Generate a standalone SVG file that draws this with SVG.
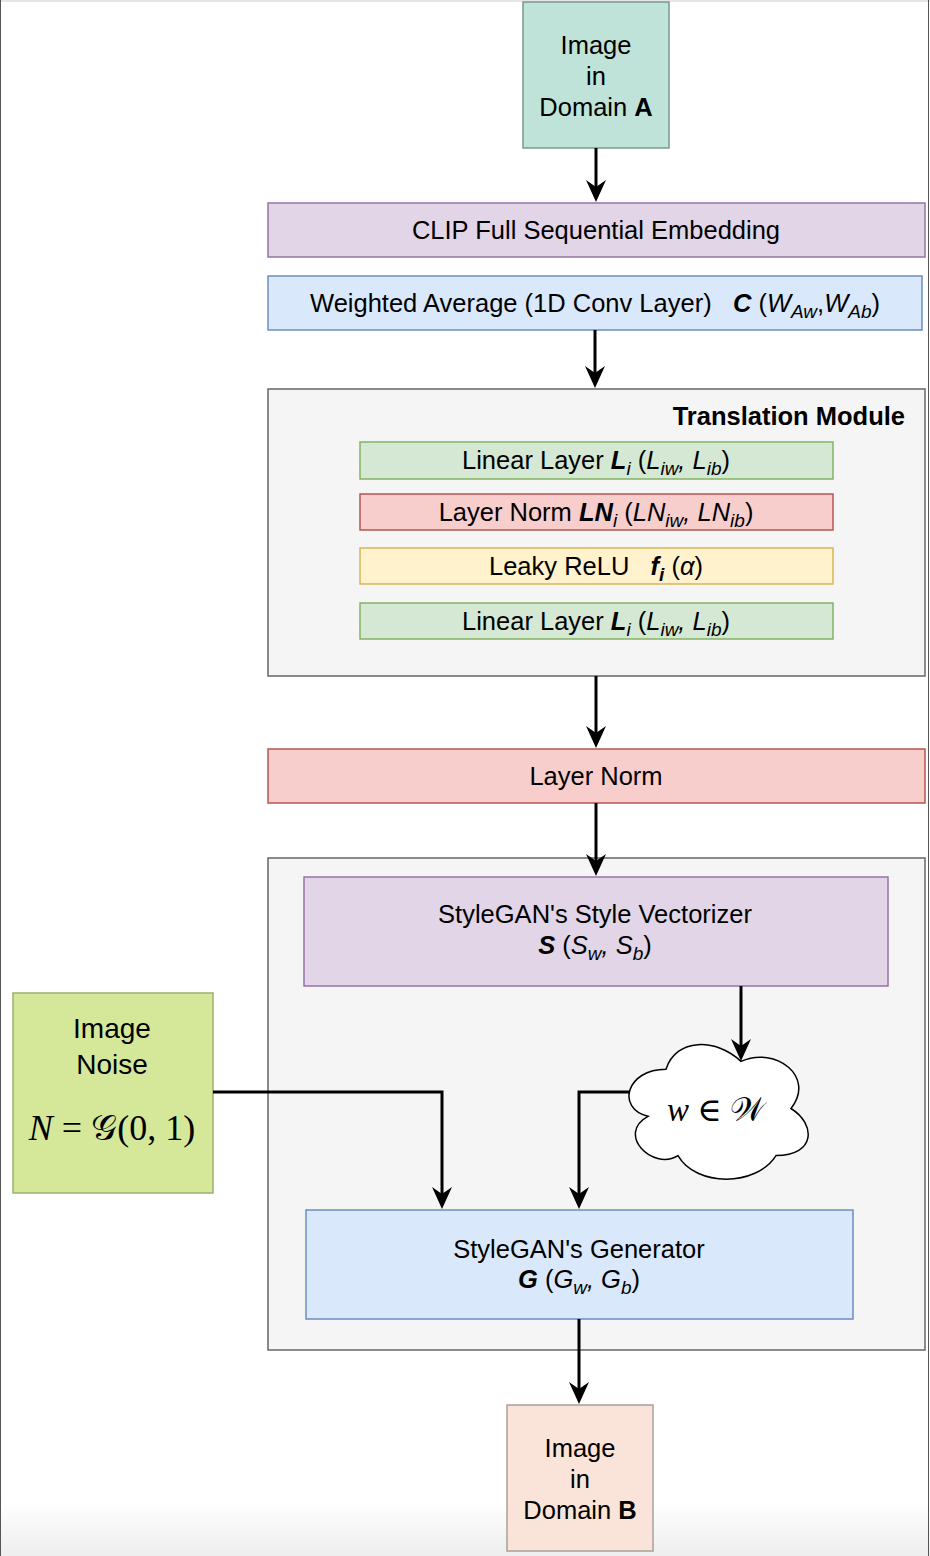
<svg xmlns="http://www.w3.org/2000/svg" width="930" height="1556" viewBox="0 0 930 1556">
<style>
text{font-family:"Liberation Sans",Arial,sans-serif;font-size:25.5px;fill:#000;white-space:pre}
.c{text-anchor:middle}
.b{font-weight:bold}
.i{font-style:italic}
.bi{font-weight:bold;font-style:italic}
.s{font-size:19px}
.m{font-family:"Liberation Serif","DejaVu Serif",serif}
.line{fill:none;stroke:#000;stroke-width:3}
.cont{fill:#f5f5f5;stroke:#666666;stroke-width:1.5}
.purple{fill:#e1d5e7;stroke:#9673a6;stroke-width:1.5}
.blue{fill:#dae8fc;stroke:#6c8ebf;stroke-width:1.5}
.green{fill:#d5e8d4;stroke:#82b366;stroke-width:1.5}
.red{fill:#f8cecc;stroke:#b85450;stroke-width:1.5}
.yellow{fill:#fff2cc;stroke:#d6b656;stroke-width:1.5}
</style>
<defs>
<marker id="arr" markerUnits="userSpaceOnUse" viewBox="0 -11 23 22" markerWidth="23" markerHeight="22" refX="8" refY="0" orient="auto">
<path d="M22,0 L0,-10 L7,0 L0,10 Z" fill="#000"/>
</marker>
<linearGradient id="shade" x1="0" y1="0" x2="0" y2="1">
<stop offset="0" stop-color="#ffffff"/>
<stop offset="1" stop-color="#eeeeee"/>
</linearGradient>
</defs>
<g id="frame">
<rect x="0" y="0" width="930" height="1556" fill="#ffffff"/>
<rect x="0" y="1500" width="930" height="56" fill="url(#shade)"/>
<rect x="0" y="0" width="930" height="2" fill="#e6e6e6"/>
<line x1="0.5" y1="0" x2="0.5" y2="1556" stroke="#555" stroke-width="1"/>
<line x1="928.5" y1="0" x2="928.5" y2="1556" stroke="#555" stroke-width="1"/>
</g>
<g id="translation-module">
<rect class="cont" x="268" y="389" width="657" height="287"/>
<text class="b" x="905" y="425" text-anchor="end">Translation Module</text>
</g>
<g id="style-container">
<rect class="cont" x="268" y="858" width="657" height="492"/>
</g>
<g id="image-a">
<rect x="523" y="2" width="146" height="146" fill="#bfe3d9" stroke="#7a9a8e" stroke-width="1.5"/>
<text class="c" x="596" y="54">Image</text>
<text class="c" x="596" y="85">in</text>
<text class="c" x="596" y="116">Domain <tspan class="b">A</tspan></text>
</g>
<g id="clip">
<rect class="purple" x="268" y="203" width="657" height="54"/>
<text class="c" x="596" y="239">CLIP Full Sequential Embedding</text>
</g>
<g id="weighted-average">
<rect class="blue" x="268" y="276" width="654" height="54"/>
<text class="c" x="595" y="312">Weighted Average (1D Conv Layer)   <tspan class="bi">C</tspan> (<tspan class="i">W</tspan><tspan class="i s" dy="6">Aw</tspan><tspan dy="-6">,</tspan><tspan class="i">W</tspan><tspan class="i s" dy="6">Ab</tspan><tspan dy="-6">)</tspan></text>
</g>
<g id="linear-1">
<rect class="green" x="360" y="442" width="473" height="37"/>
<text class="c" x="596" y="469">Linear Layer <tspan class="bi">L</tspan><tspan class="i s" dy="6">i</tspan><tspan dy="-6"> (</tspan><tspan class="i">L</tspan><tspan class="i s" dy="6">iw</tspan><tspan class="i" dy="-6">, L</tspan><tspan class="i s" dy="6">ib</tspan><tspan dy="-6">)</tspan></text>
</g>
<g id="layer-norm-i">
<rect class="red" x="360" y="494" width="473" height="36"/>
<text class="c" x="596" y="521">Layer Norm <tspan class="bi">LN</tspan><tspan class="i s" dy="6">i</tspan><tspan dy="-6"> (</tspan><tspan class="i">LN</tspan><tspan class="i s" dy="6">iw</tspan><tspan class="i" dy="-6">, LN</tspan><tspan class="i s" dy="6">ib</tspan><tspan dy="-6">)</tspan></text>
</g>
<g id="leaky-relu">
<rect class="yellow" x="360" y="548" width="473" height="36"/>
<text class="c" x="596" y="575">Leaky ReLU   <tspan class="bi">f</tspan><tspan class="bi s" dy="6">i</tspan><tspan dy="-6"> (</tspan><tspan class="i">α</tspan>)</text>
</g>
<g id="linear-2">
<rect class="green" x="360" y="603" width="473" height="36"/>
<text class="c" x="596" y="630">Linear Layer <tspan class="bi">L</tspan><tspan class="i s" dy="6">i</tspan><tspan dy="-6"> (</tspan><tspan class="i">L</tspan><tspan class="i s" dy="6">iw</tspan><tspan class="i" dy="-6">, L</tspan><tspan class="i s" dy="6">ib</tspan><tspan dy="-6">)</tspan></text>
</g>
<g id="layer-norm">
<rect class="red" x="268" y="749" width="657" height="54"/>
<text class="c" x="596" y="785">Layer Norm</text>
</g>
<g id="style-vectorizer">
<rect class="purple" x="304" y="877" width="584" height="109"/>
<text class="c" x="595" y="923">StyleGAN's Style Vectorizer</text>
<text class="c" x="595" y="954"><tspan class="bi">S</tspan> (<tspan class="i">S</tspan><tspan class="i s" dy="6">w</tspan><tspan class="i" dy="-6">, S</tspan><tspan class="i s" dy="6">b</tspan><tspan dy="-6">)</tspan></text>
</g>
<g id="w-space">
<path d="M666,1069.25 C626,1069.25 616,1108.5 648,1116.35 C616,1133.6 652,1171.3 678,1155.6 C696,1187 756,1187 776,1155.6 C816,1155.6 816,1124.2 791,1108.5 C816,1077.1 776,1045.7 741,1061.4 C716,1037.85 676,1037.85 666,1069.25 Z" fill="#ffffff" stroke="#000" stroke-width="1.5"/>
<text class="c m" x="716" y="1121" style="font-size:33px"><tspan class="i">w</tspan> ∈ 𝒲</text>
</g>
<g id="image-noise">
<rect x="13" y="993" width="200" height="200" fill="#d5e89a" stroke="#9bb26c" stroke-width="1.5"/>
<text class="c" x="112" y="1038" style="font-size:28px">Image</text>
<text class="c" x="112" y="1074" style="font-size:28px">Noise</text>
<text class="c m" x="112" y="1140" style="font-size:36px"><tspan class="i">N</tspan> = 𝒢(0, 1)</text>
</g>
<g id="generator">
<rect class="blue" x="306" y="1210" width="547" height="109"/>
<text class="c" x="579" y="1258">StyleGAN's Generator</text>
<text class="c" x="579" y="1288"><tspan class="bi">G</tspan> (<tspan class="i">G</tspan><tspan class="i s" dy="6">w</tspan><tspan class="i" dy="-6">, G</tspan><tspan class="i s" dy="6">b</tspan><tspan dy="-6">)</tspan></text>
</g>
<g id="image-b">
<rect x="507" y="1405" width="146" height="146" fill="#fae3d9" stroke="#a9a09b" stroke-width="1.5"/>
<text class="c" x="580" y="1457">Image</text>
<text class="c" x="580" y="1488">in</text>
<text class="c" x="580" y="1519">Domain <tspan class="b">B</tspan></text>
</g>
<g id="connectors">
<path class="line" d="M596,148 L596,188" marker-end="url(#arr)"/>
<path class="line" d="M595,330 L595,374" marker-end="url(#arr)"/>
<path class="line" d="M596,676 L596,734" marker-end="url(#arr)"/>
<path class="line" d="M596,803 L596,862" marker-end="url(#arr)"/>
<path class="line" d="M741,986 L741,1047" marker-end="url(#arr)"/>
<path class="line" d="M630,1092 L579,1092 L579,1195" marker-end="url(#arr)"/>
<path class="line" d="M213,1092 L442,1092 L442,1195" marker-end="url(#arr)"/>
<path class="line" d="M579,1319 L579,1390" marker-end="url(#arr)"/>
</g>
</svg>
